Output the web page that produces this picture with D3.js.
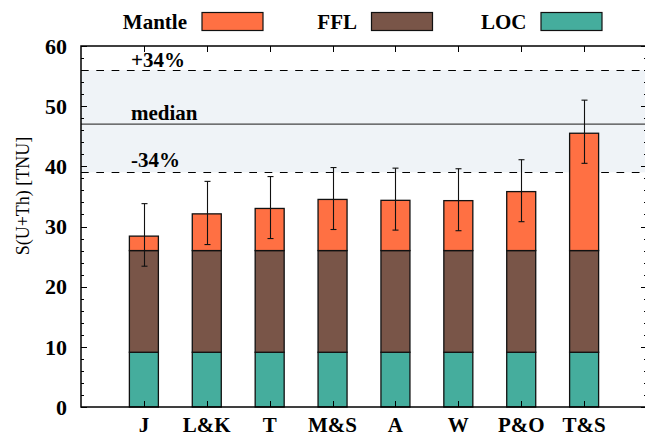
<!DOCTYPE html>
<html><head><meta charset="utf-8">
<script src="https://cdn.jsdelivr.net/npm/d3@7"></script>
<style>body{margin:0;background:#fff}svg{display:block}</style>
</head><body>
<svg id="c" width="645" height="441"></svg>
<script>
const categories = ["J","L&K","T","M&S","A","W","P&O","T&S"];
const locValues = [9.1,9.1,9.1,9.1,9.1,9.1,9.1,9.1];
const fflValues = [16.9,16.9,16.9,16.9,16.9,16.9,16.9,16.9];
const mantleValues = [2.4,6.1,7.0,8.5,8.35,8.3,9.8,19.5];
const errLow = [23.4,27.0,28.0,29.5,29.4,29.3,30.8,40.5];
const errHigh = [33.8,37.5,38.3,39.8,39.7,39.6,41.1,51.0];
const yTicks = [0,10,20,30,40,50,60];
const median = 47.0, bandLow = 39.0, bandHigh = 56.0;
const seriesNames = ["Mantle","FFL","LOC"];
const colors = {Mantle:"#ff7043", FFL:"#795548", LOC:"#45ad9d"};

const svg = d3.select("#c").attr("font-family", "Liberation Serif, Tinos, serif");
const L = 81, R = 647, T = 46, B = 407;
const x = d3.scaleLinear().domain([-1, 8]).range([L, R]);
const y = d3.scaleLinear().domain([0, 60]).range([B, T]);
const bw = 29;

// band
svg.append("rect").attr("x", L).attr("width", R - L)
  .attr("y", y(bandHigh)).attr("height", y(bandLow) - y(bandHigh)).attr("fill", "#eff3f7");

// stack
const rows = categories.map((c, i) => ({cat: c, i, LOC: locValues[i], FFL: fflValues[i], Mantle: mantleValues[i]}));
const stack = d3.stack().keys(["LOC","FFL","Mantle"])(rows);

// median/dashed lines
svg.append("line").attr("x1", L).attr("x2", R).attr("y1", y(median)).attr("y2", y(median))
  .attr("stroke", "#444").attr("stroke-width", 1.2);
[bandHigh, bandLow].forEach(v => svg.append("line").attr("x1", L).attr("x2", R)
  .attr("y1", Math.round(y(v)) + 0.5).attr("y2", Math.round(y(v)) + 0.5)
  .attr("stroke", "#000").attr("stroke-width", 1.2).attr("stroke-dasharray", "7.7,7.6"));

stack.forEach(s => {
  svg.append("g").selectAll("rect").data(s).join("rect")
    .attr("x", d => x(d.data.i) - bw / 2).attr("width", bw)
    .attr("y", d => y(d[1])).attr("height", d => y(d[0]) - y(d[1]))
    .attr("fill", colors[s.key]).attr("stroke", "#111").attr("stroke-width", 1.3);
});

// error bars
const eg = svg.append("g").attr("stroke", "#111").attr("stroke-width", 1.1);
categories.forEach((c, i) => {
  const cx = Math.round(x(i)) + 0.5;
  eg.append("line").attr("x1", cx).attr("x2", cx).attr("y1", y(errLow[i])).attr("y2", y(errHigh[i]));
  [errLow[i], errHigh[i]].forEach(v => eg.append("line").attr("x1", cx - 3).attr("x2", cx + 3)
    .attr("y1", y(v)).attr("y2", y(v)));
});

// annotations
const ann = [["+34%", 66.5], ["median", 120], ["-34%", 167]];
ann.forEach(a => svg.append("text").attr("x", 131).attr("y", a[1])
  .attr("font-size", 21).attr("font-weight", "bold").text(a[0]));

// frame
svg.append("rect").attr("x", L).attr("y", T).attr("width", R - L).attr("height", B - T)
  .attr("fill", "none").attr("stroke", "#000").attr("stroke-width", 1.5);

// ticks
const tg = svg.append("g").attr("stroke", "#000").attr("stroke-width", 1);
d3.range(0, 61, 2).forEach(v => {
  const len = v % 10 === 0 ? 6 : 3;
  const yy = Math.round(y(v)) + 0.5;
  tg.append("line").attr("x1", L).attr("x2", L + len).attr("y1", yy).attr("y2", yy);
  tg.append("line").attr("x1", R).attr("x2", R - len).attr("y1", yy).attr("y2", yy);
});
categories.forEach((c, i) => {
  const xx = Math.round(x(i)) + 0.5;
  tg.append("line").attr("x1", xx).attr("x2", xx).attr("y1", B).attr("y2", B - 6);
  tg.append("line").attr("x1", xx).attr("x2", xx).attr("y1", T).attr("y2", T + 6);
});

// y tick labels
svg.append("g").selectAll("text").data(yTicks).join("text")
  .attr("x", 67).attr("y", d => y(d)).attr("dy", "0.35em").attr("text-anchor", "end")
  .attr("font-size", 22).attr("font-weight", "bold").text(d => d);

// x labels
svg.append("g").selectAll("text").data(categories).join("text")
  .attr("x", (d, i) => x(i)).attr("y", 432).attr("text-anchor", "middle")
  .attr("font-size", 21).attr("font-weight", "bold").text(d => d);

// y title
svg.append("text").attr("transform", "translate(29,196) rotate(-90)")
  .attr("text-anchor", "middle").attr("font-size", 18).text("S(U+Th) [TNU]");

// legend
const legX = [[187, 202], [357, 371.5], [526.5, 541]];
seriesNames.forEach((n, k) => {
  svg.append("text").attr("x", legX[k][0]).attr("y", 29).attr("text-anchor", "end")
    .attr("font-size", 21).attr("font-weight", "bold").text(n);
  svg.append("rect").attr("x", legX[k][1]).attr("y", 12.5).attr("width", 61).attr("height", 18)
    .attr("fill", colors[n]).attr("stroke", "#111").attr("stroke-width", 1.2);
});
</script>
</body></html>
